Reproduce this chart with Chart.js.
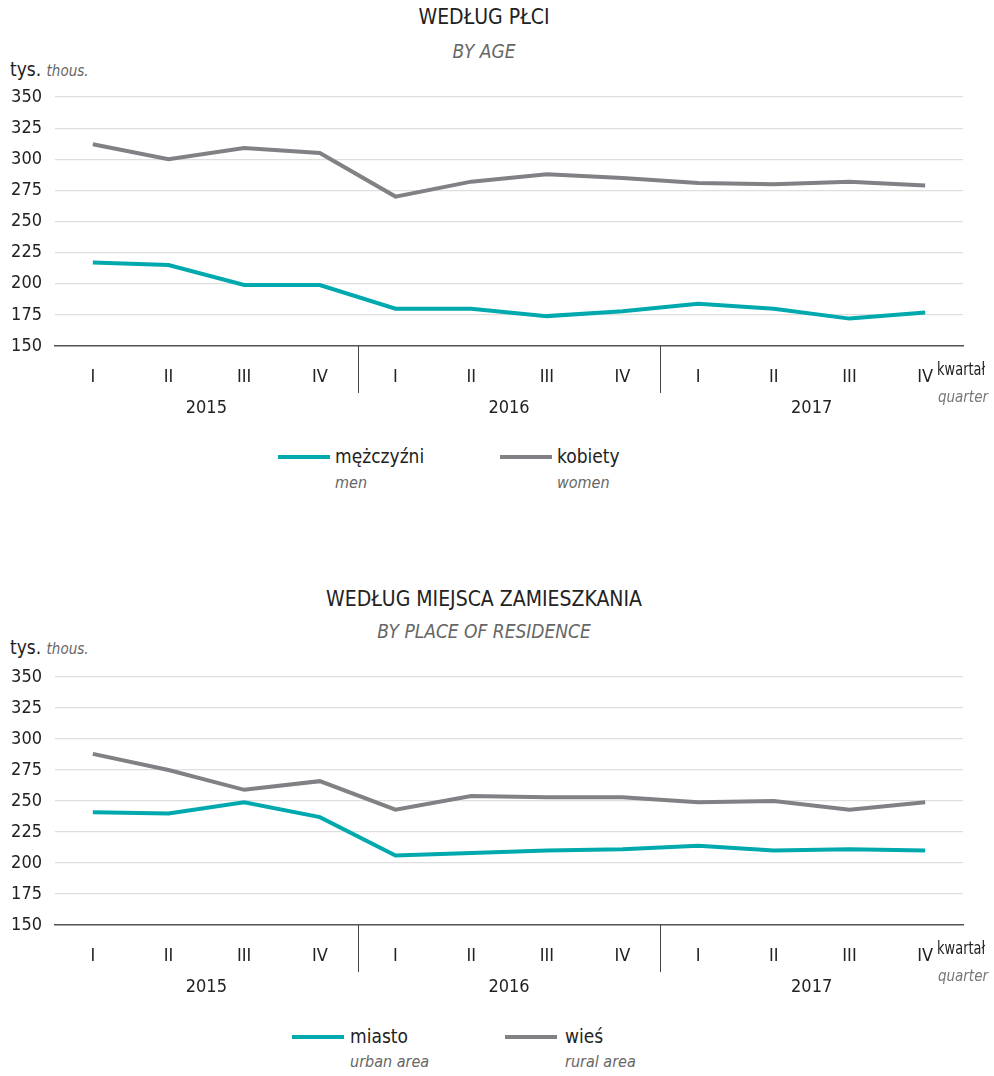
<!DOCTYPE html>
<html>
<head>
<meta charset="utf-8">
<script src="https://cdn.jsdelivr.net/npm/chart.js@4/dist/chart.umd.min.js"></script>
<style>
  body { margin: 0; background: #fff; }
  #page { position: relative; width: 994px; height: 1076px; overflow: hidden;
          font-family: "Liberation Sans Narrow", "DejaVu Sans Condensed", sans-serif; color: #222; }
  .abs { position: absolute; white-space: nowrap; }
  .title { left: 0; width: 968px; text-align: center; font-size: 21px; }
  .sub { left: 0; width: 968px; text-align: center; font-size: 19px; font-style: italic; color: #666; }
  .unit { left: 10px; font-size: 19px; }
  .unit i { font-size: 15px; color: #666; }
  .swatch { height: 4px; width: 52px; }
  .leg { font-size: 19px; }
  .legEn { font-size: 16px; font-style: italic; color: #666; }
  .chartBox { position: absolute; left: 0; width: 994px; }
</style>
</head>
<body>
<div id="page">
  <div class="abs title" style="top:5px">WEDŁUG PŁCI</div>
  <div class="abs sub" style="top:40px">BY AGE</div>
  <div class="abs unit" style="top:58px">tys. <i>thous.</i></div>
  <div class="chartBox" style="top:60px;height:360px"><canvas id="chartSex"></canvas></div>
  <div class="abs swatch" style="left:278px;top:455px;background:#00a9ad"></div>
  <div class="abs leg" style="left:335px;top:445px">mężczyźni</div>
  <div class="abs legEn" style="left:335px;top:473px">men</div>
  <div class="abs swatch" style="left:500px;top:455px;background:#808085"></div>
  <div class="abs leg" style="left:557px;top:445px">kobiety</div>
  <div class="abs legEn" style="left:557px;top:473px">women</div>

  <div class="abs title" style="top:587px">WEDŁUG MIEJSCA ZAMIESZKANIA</div>
  <div class="abs sub" style="top:620px">BY PLACE OF RESIDENCE</div>
  <div class="abs unit" style="top:636px">tys. <i>thous.</i></div>
  <div class="chartBox" style="top:640px;height:359px"><canvas id="chartPlace"></canvas></div>
  <div class="abs swatch" style="left:292px;top:1035px;background:#00a9ad"></div>
  <div class="abs leg" style="left:350px;top:1025px">miasto</div>
  <div class="abs legEn" style="left:350px;top:1052px">urban area</div>
  <div class="abs swatch" style="left:505px;top:1035px;background:#808085"></div>
  <div class="abs leg" style="left:565px;top:1025px">wieś</div>
  <div class="abs legEn" style="left:565px;top:1052px">rural area</div>
</div>
<script>
const quarters = ["I", "II", "III", "IV", "I", "II", "III", "IV", "I", "II", "III", "IV"];
const years = ["2015", "2016", "2017"];
const yMin = 150, yMax = 350, yStep = 25;

// WEDŁUG PŁCI
const menValues = [217, 215, 199, 199, 180, 180, 174, 178, 184, 180, 172, 177];
const womenValues = [312, 300, 309, 305, 270, 282, 288, 285, 281, 280, 282, 279];
// WEDŁUG MIEJSCA ZAMIESZKANIA
const urbanValues = [241, 240, 249, 237, 206, 208, 210, 211, 214, 210, 211, 210];
const ruralValues = [288, 275, 259, 266, 243, 254, 253, 253, 249, 250, 243, 249];

const FONT = '"Liberation Sans Narrow", "DejaVu Sans Condensed", sans-serif';
const TEAL = "#00a9ad";
const GREY = "#808085";

// dividers between years, year labels and the "kwartał / quarter" note
const yearsPlugin = {
  id: "years",
  afterDraw(chart) {
    const ctx = chart.ctx;
    const xs = chart.scales.x;
    const bottom = chart.chartArea.bottom;
    ctx.save();
    ctx.strokeStyle = "#444";
    ctx.lineWidth = 1;
    for (let g = 1; g < years.length; g++) {
      const x = Math.round((xs.getPixelForValue(g * 4 - 1) + xs.getPixelForValue(g * 4)) / 2) + 0.5;
      ctx.beginPath();
      ctx.moveTo(x, bottom);
      ctx.lineTo(x, bottom + 47);
      ctx.stroke();
    }
    ctx.fillStyle = "#222";
    ctx.font = "18px " + FONT;
    ctx.textAlign = "center";
    ctx.textBaseline = "middle";
    years.forEach((y, g) => {
      const x = (xs.getPixelForValue(g * 4) + xs.getPixelForValue(g * 4 + 3)) / 2;
      ctx.fillText(y, x, bottom + 62);
    });
    const last = quarters.length - 1;
    const lx = xs.getPixelForValue(last) + ctx.measureText(quarters[last]).width / 2 + 4;
    ctx.textAlign = "left";
    // squeeze the word a little so it fits like the condensed original
    ctx.save();
    ctx.translate(lx, bottom + 24);
    ctx.scale(0.8, 1);
    ctx.fillText("kwartał", 0, 0);
    ctx.restore();
    ctx.font = "italic 15px " + FONT;
    ctx.fillStyle = "#777";
    ctx.textAlign = "right";
    ctx.fillText("quarter", 988, bottom + 52);
    ctx.restore();
  }
};

function makeChart(id, labelA, valuesA, labelB, valuesB) {
  return new Chart(document.getElementById(id), {
    type: "line",
    data: {
      labels: quarters,
      datasets: [
        { label: labelA, data: valuesA, borderColor: TEAL, borderWidth: 4, pointRadius: 0, tension: 0 },
        { label: labelB, data: valuesB, borderColor: GREY, borderWidth: 4, pointRadius: 0, tension: 0 }
      ]
    },
    options: {
      responsive: true,
      maintainAspectRatio: false,
      animation: false,
      layout: { padding: { top: 37, right: 31, left: 0, bottom: 0 } },
      plugins: { legend: { display: false }, tooltip: { enabled: false } },
      scales: {
        x: {
          offset: true,
          grid: { display: false },
          border: { display: true, color: "#555", width: 1.5 },
          ticks: { color: "#222", font: { family: FONT, size: 18 }, padding: 13, maxRotation: 0, autoSkip: false },
          afterFit(scale) { scale.height = 74; }
        },
        y: {
          min: yMin,
          max: yMax,
          grid: { color: "#dedede", lineWidth: 1.2, drawTicks: false },
          border: { display: false },
          ticks: { stepSize: yStep, color: "#222", font: { family: FONT, size: 18 }, padding: 13 },
          afterFit(scale) { scale.width = 55; }
        }
      }
    },
    plugins: [yearsPlugin]
  });
}

makeChart("chartSex", "mężczyźni", menValues, "kobiety", womenValues);
makeChart("chartPlace", "miasto", urbanValues, "wieś", ruralValues);
</script>
</body>
</html>
